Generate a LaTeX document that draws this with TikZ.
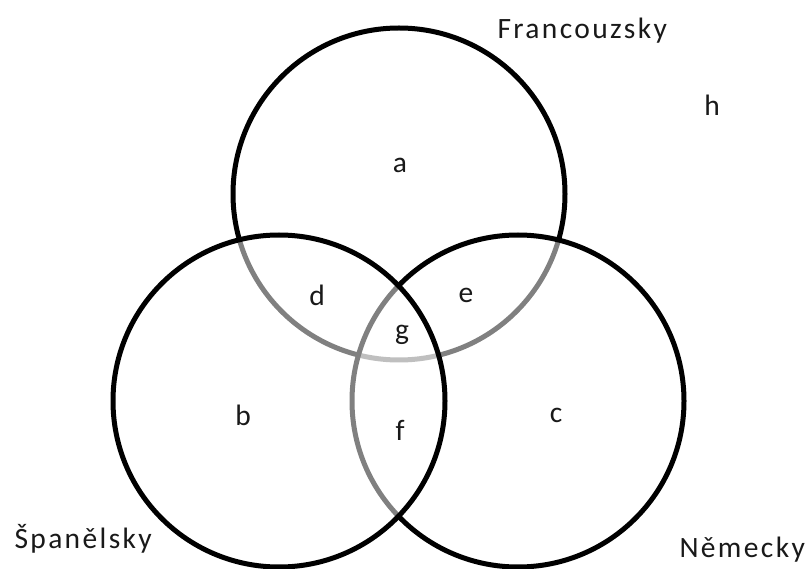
\documentclass[tikz,border=0pt]{standalone}
\usepackage{fontspec}
\setmainfont{Carlito}
\newfontfamily\popisfont[LetterSpace=8]{Carlito}
\usetikzlibrary{positioning}

\begin{document}
\begin{tikzpicture}[x=1pt, y=-1pt,
    mnozina/.style={circle, draw=black, line width=5pt, fill=white,
      fill opacity=0.5, minimum size=332pt, inner sep=0pt},
    nazev/.style={font=\popisfont\fontsize{29.5}{34}\selectfont, text=black!90, anchor=base west},
    oblast/.style={font=\popisfont\fontsize{29.5}{34}\selectfont, text=black!90}]

  \useasboundingbox (0,0) rectangle (809,569);

  % --- mnoziny: poradi kresleni urcuje sede oblouky ---
  \node[mnozina] (fr) at (399,194) {};
  \node[mnozina] (de) at (518,401) {};
  \node[mnozina] (es) at (279,401) {};

  % --- nazvy mnozin ---
  \node[nazev] (frl) at (494,39) {Francouzsky};
  \node[nazev] (esl) at (11,548) {Španělsky};
  \node[nazev] (del) at (676,557) {Německy};

  % --- oblasti ---
  \node[oblast] (a) at (400,165) {a};
  \node[oblast] (b) at (243,415) {b};
  \node[oblast] (c) at (556,415) {c};
  \node[oblast] (d) at (317,295) {d};
  \node[oblast] (e) at (466,295) {e};
  \node[oblast] (f) at (400,430) {f};
  \node[oblast] (g) at (402,335) {g};
  \node[oblast] (h) at (712,105) {h};

\end{tikzpicture}
\end{document}
